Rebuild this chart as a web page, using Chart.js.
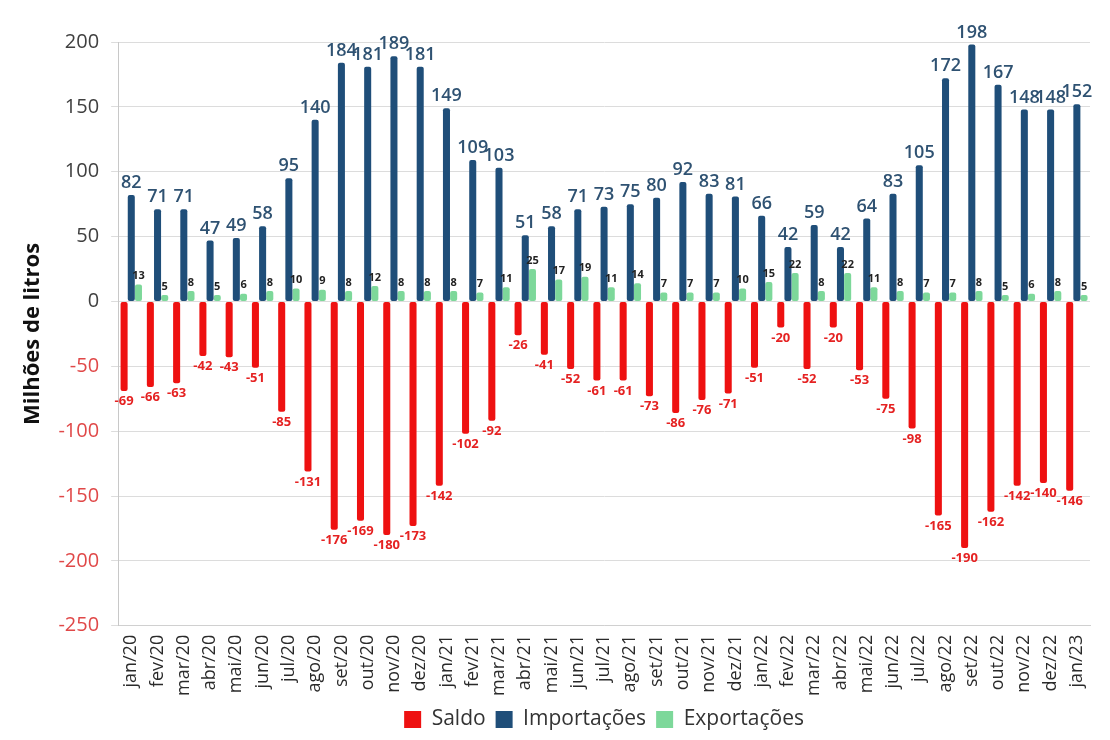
<!DOCTYPE html>
<html>
<head>
<meta charset="utf-8">
<script src="https://cdn.jsdelivr.net/npm/chart.js@4"></script>
<style>
    html, body { margin: 0; padding: 0; background: #fff; }
    #wrap { width: 1110px; height: 740px; }
</style>
</head>
<body>
<div id="wrap"><canvas id="balancaChart"></canvas></div>
<script>
const meses = [
    "jan/20", "fev/20", "mar/20", "abr/20", "mai/20", "jun/20", "jul/20", "ago/20", "set/20", "out/20", "nov/20", "dez/20",
    "jan/21", "fev/21", "mar/21", "abr/21", "mai/21", "jun/21", "jul/21", "ago/21", "set/21", "out/21", "nov/21", "dez/21",
    "jan/22", "fev/22", "mar/22", "abr/22", "mai/22", "jun/22", "jul/22", "ago/22", "set/22", "out/22", "nov/22", "dez/22",
    "jan/23",
];
const saldo = [
    -69, -66, -63, -42, -43, -51, -85, -131, -176, -169, -180, -173,
    -142, -102, -92, -26, -41, -52, -61, -61, -73, -86, -76, -71,
    -51, -20, -52, -20, -53, -75, -98, -165, -190, -162, -142, -140,
    -146,
];
const importacoes = [
    82, 71, 71, 47, 49, 58, 95, 140, 184, 181, 189, 181,
    149, 109, 103, 51, 58, 71, 73, 75, 80, 92, 83, 81,
    66, 42, 59, 42, 64, 83, 105, 172, 198, 167, 148, 148,
    152,
];
const exportacoes = [
    13, 5, 8, 5, 6, 8, 10, 9, 8, 12, 8, 8,
    8, 7, 11, 25, 17, 19, 11, 14, 7, 7, 7, 10,
    15, 22, 8, 22, 11, 8, 7, 7, 8, 5, 6, 8,
    5,
];
const yTicks = [200, 150, 100, 50, 0, -50, -100, -150, -200, -250];

const FONT = "'Open Sans', 'DejaVu Sans', sans-serif";

// rotulos de valor em cada barra
const labelStyle = [
    { font: "bold 13px " + FONT, color: "#e52222" },
    { font: "600 18px " + FONT, color: "#2f5272" },
    { font: "bold 11px " + FONT, color: "#222222" },
];

const valueLabels = {
    id: "valueLabels",
    afterDatasetsDraw(chart) {
        const ctx = chart.ctx;
        chart.data.datasets.forEach((ds, i) => {
            const meta = chart.getDatasetMeta(i);
            const st = labelStyle[i];
            ctx.save();
            ctx.font = st.font;
            ctx.fillStyle = st.color;
            ctx.textAlign = "center";
            meta.data.forEach((bar, j) => {
                const v = ds.data[j];
                if (v < 0) {
                    ctx.textBaseline = "top";
                    ctx.fillText(v, bar.x, bar.y + 4);
                } else {
                    ctx.textBaseline = "bottom";
                    ctx.fillText(v, bar.x, bar.y - 3);
                }
            });
            ctx.restore();
        });
    },
};

document.addEventListener("DOMContentLoaded", () => {
    const el = document.getElementById("balancaChart");

    new Chart(el, {
        type: "bar",
        data: {
            labels: meses,
            datasets: [
                {
                    label: "Saldo",
                    data: saldo,
                    backgroundColor: "#ee1111",
                },
                {
                    label: "Importações",
                    data: importacoes,
                    backgroundColor: "#1f4e79",
                },
                {
                    label: "Exportações",
                    data: exportacoes,
                    backgroundColor: "#7dd89a",
                },
            ],
        },
        options: {
            responsive: true,
            maintainAspectRatio: false,
            animation: false,
            layout: { padding: { top: 42, right: 20, left: 16, bottom: 0 } },
            datasets: {
                bar: { categoryPercentage: 0.82, barPercentage: 0.98, borderRadius: 2, borderSkipped: false },
            },
            scales: {
                x: {
                    grid: { display: false, drawTicks: true, tickLength: 6 },
                    border: { display: true, color: "#d0d0d0" },
                    ticks: {
                        autoSkip: false,
                        minRotation: 90,
                        maxRotation: 90,
                        color: "#2a2a2a",
                        font: { family: FONT, size: 18 },
                        padding: 3,
                    },
                },
                y: {
                    min: -250,
                    max: 200,
                    afterBuildTicks: (axis) => {
                        axis.ticks = yTicks.map((v) => ({ value: v }));
                    },
                    grid: { color: "#dcdcdc", tickLength: 7 },
                    border: { color: "#c8c8c8" },
                    ticks: {
                        color: (c) => (c.tick.value < 0 ? "#e04848" : "#404040"),
                        font: { family: FONT, size: 20 },
                        padding: 12,
                    },
                    title: {
                        display: true,
                        text: "Milhões de litros",
                        color: "#111111",
                        font: { family: FONT, size: 22, weight: "bold" },
                        padding: { bottom: 0 },
                    },
                },
            },
            plugins: {
                legend: {
                    position: "bottom",
                    fullSize: false,
                    labels: {
                        boxWidth: 17,
                        boxHeight: 17,
                        color: "#333333",
                        font: { family: FONT, size: 21 },
                        padding: 10,
                    },
                },
                tooltip: { enabled: false },
            },
        },
        plugins: [valueLabels],
    });
});
</script>
</body>
</html>
